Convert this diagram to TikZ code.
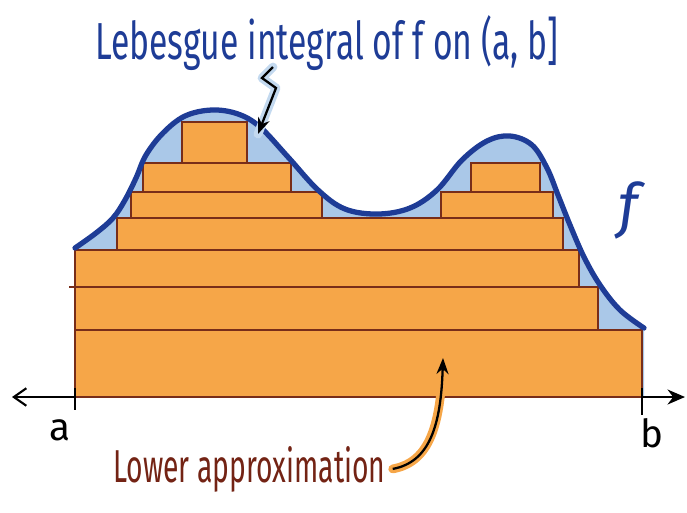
\documentclass[tikz,border=0pt]{standalone}
\usepackage{fontspec}
\setmainfont{Fira Sans}
\usetikzlibrary{arrows.meta}
\definecolor{slaborange}{RGB}{246,166,72}
\definecolor{slabbrown}{RGB}{120,45,25}
\definecolor{bluefill}{RGB}{170,200,232}
\definecolor{curveblue}{RGB}{30,60,150}
\definecolor{labelbrown}{RGB}{115,35,20}
\begin{document}
\begin{tikzpicture}[
    x=0.02cm, y=-0.02cm,
    slab/.style={draw=slabbrown, fill=slaborange, line width=0.9pt},
    curve/.style={draw=curveblue, line width=3pt, line cap=round, line join=round},
    pointer/.style={-{Stealth[length=3.2mm, width=2.4mm]}, line width=1.3pt, black},
    halo/.style={line width=5pt, line cap=round, line join=round},
    hand/.style={inner sep=0pt}
]
    \useasboundingbox (0,0) rectangle (687,512);
    \def\fcurve{plot[smooth, tension=0.6] coordinates {(75,248) (96,233) (113,218) (125,200) (136,178) (146,155) (163,133) (185,116) (212,110) (238,114) (260,127) (288,157) (318,190) (345,209) (378,214) (410,208) (437,190) (462,160) (487,141) (510,136) (532,145) (547,168) (558,195) (570,225) (584,257) (600,285) (620,310) (644,328)}}

    \fill[bluefill] \fcurve -- (644,397) -- (75,397) -- cycle;
    \draw[{Straight Barb[length=2.5mm, width=3.5mm]}-{Stealth[length=3.5mm, width=3mm]}, line width=1.2pt] (12,397) -- (685,397);
    \foreach \xa/\ya/\xb/\yb in {75/330/642/397, 75/287/598/330, 75/250/579/287, 117/218/563/250, 131/192/322/218, 441/192/553/218, 143/163/291/192, 471/163/540/192, 182/122/247/163}
        \draw[slab] (\xa,\ya) rectangle (\xb,\yb);
    \draw[slabbrown, line width=0.9pt] (69,287) -- (75,287);
    \draw[curve] \fcurve;
    \draw[line width=1.2pt] (75,388) -- (75,410);
    \draw[line width=1.2pt] (642,388) -- (642,415);

    \node[hand, anchor=base west, text=curveblue] (lebesgue) at (95,59) {\resizebox{9.26cm}{0.88cm}{Lebesgue integral of f on (a, b]}};
    \node[hand, anchor=base west, text=labelbrown] (lower) at (113,482) {\resizebox{5.44cm}{0.72cm}{Lower approximation}};
    \node[text=curveblue] (flabel) at (628,210) {\fontsize{34}{40}\selectfont\itshape f};
    \node (alabel) at (60,430) {\fontsize{22}{26}\selectfont a};
    \node (blabel) at (652,433) {\fontsize{22}{26}\selectfont b};

    \coordinate (squig) at (273,67);
    \coordinate (peaktip) at (258,134);
    \coordinate (lowtip) at (443,358);
    \draw[halo, draw=bluefill!70] (squig) -- ++(-11,11) -- ++(14,10) -- (peaktip);
    \draw[pointer] (squig) -- ++(-11,11) -- ++(14,10) -- (peaktip);
    \draw[halo, draw=slaborange] ([xshift=4pt]lower.east) .. controls (430,462) and (441,425) .. (lowtip);
    \draw[pointer] ([xshift=4pt]lower.east) .. controls (430,462) and (441,425) .. (lowtip);
\end{tikzpicture}
\end{document}
